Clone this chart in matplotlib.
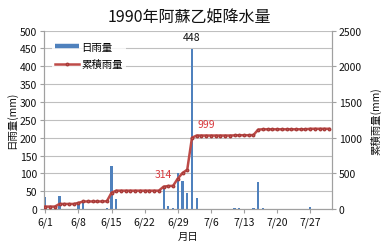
import numpy as np
import matplotlib
matplotlib.use("Agg")
import matplotlib.pyplot as plt
from matplotlib.lines import Line2D

plt.rcParams['font.family'] = ['Noto Sans CJK JP', 'DejaVu Sans']

# ---- data (6/1 .. 7/31, 1990) ----
n_days = 61
rain_days = [0, 3, 7, 8, 13, 14, 15, 25, 26, 27, 28, 29, 30, 31, 32, 40, 41, 44, 45, 46, 56]
rain_vals = [35, 37, 15, 20, 3, 120, 28, 56, 9, 2, 102, 78, 46, 448, 31, 2, 2, 3, 76, 4, 7]
tick_days = [0, 7, 14, 21, 28, 35, 42, 49, 56]
tick_labels = ["6/1", "6/8", "6/15", "6/22", "6/29", "7/6", "7/13", "7/20", "7/27"]
title = "1990年阿蘇乙姫降水量"

daily = np.zeros(n_days)
daily[rain_days] = rain_vals
cumulative = np.cumsum(daily)
days = np.arange(n_days)

blue = '#4F81BD'
red = '#BE4B48'
lab_red = '#D8383C'
grid_c = '#BFBFBF'
txt = '#111111'

fig = plt.figure(figsize=(3.82, 2.51), dpi=100)
ax = fig.add_axes([0.115, 0.163, 0.754, 0.7115])
ax2 = ax.twinx()

ax.bar(days, daily, width=0.45, color=blue, zorder=2)
ax.set_ylim(0, 500)
ax.set_yticks(np.arange(0, 501, 50))
ax.set_xlim(-0.3, 60.6)
ax.set_xticks(tick_days)
ax.set_xticklabels(tick_labels)
ax.yaxis.grid(True, color=grid_c, linewidth=0.8)
ax.set_axisbelow(True)

ax2.plot(days, cumulative, color=red, linewidth=1.8, marker='o', markersize=1.8,
         markeredgecolor='#A83C3A', markerfacecolor='#C85A57', zorder=3)
ax2.set_ylim(0, 2500)
ax2.set_yticks(np.arange(0, 2501, 500))

for a in (ax, ax2):
    a.spines['top'].set_visible(False)
    for s in ('left', 'right', 'bottom'):
        a.spines[s].set_color('#A0A0A0')
        a.spines[s].set_linewidth(0.8)
    a.tick_params(axis='both', labelsize=7.5, color='#A0A0A0', length=3,
                  width=0.8, pad=2, labelcolor=txt)

ax.set_ylabel("日雨量(mm)", fontsize=7.5, labelpad=2, color=txt)
ax2.set_ylabel("累積雨量(mm)", fontsize=7.5, rotation=90, labelpad=6, color=txt)
ax.set_xlabel("月日", fontsize=7.5, labelpad=3, color=txt)
fig.text(0.497, 0.932, title, ha='center', va='center', fontsize=11.5, color=txt)

# data labels
i_max = int(np.argmax(daily))
ax.annotate(f"{int(daily[i_max])}", (days[i_max], daily[i_max]), xytext=(0, 9),
            textcoords='offset points', ha='center', va='center', fontsize=7.5,
            color=txt)
ax2.annotate(f"{int(cumulative[25])}", (days[25], cumulative[25]), xytext=(0, 9),
             textcoords='offset points', ha='center', va='center', fontsize=7.5,
             color=lab_red)
ax2.annotate(f"{int(cumulative[31])}", (days[31], cumulative[31]), xytext=(10, 10),
             textcoords='offset points', ha='center', va='center', fontsize=7.5,
             color=lab_red)

handles = [Line2D([0], [0], color=blue, linewidth=3.2, solid_capstyle='butt'),
           Line2D([0], [0], color=red, linewidth=1.8, marker='o', markersize=1.8,
                  markeredgecolor='#A83C3A', markerfacecolor='#C85A57')]
leg = ax2.legend(handles, ["日雨量", "累積雨量"], loc='upper left',
                 bbox_to_anchor=(0.01, 0.985), fontsize=7.5, frameon=True,
                 handlelength=2.3, handletextpad=0.2, labelspacing=0.75,
                 borderpad=0.3, fancybox=False)
leg.get_frame().set_edgecolor('none')
leg.get_frame().set_facecolor('white')

fig.savefig("out.png", dpi=100)
